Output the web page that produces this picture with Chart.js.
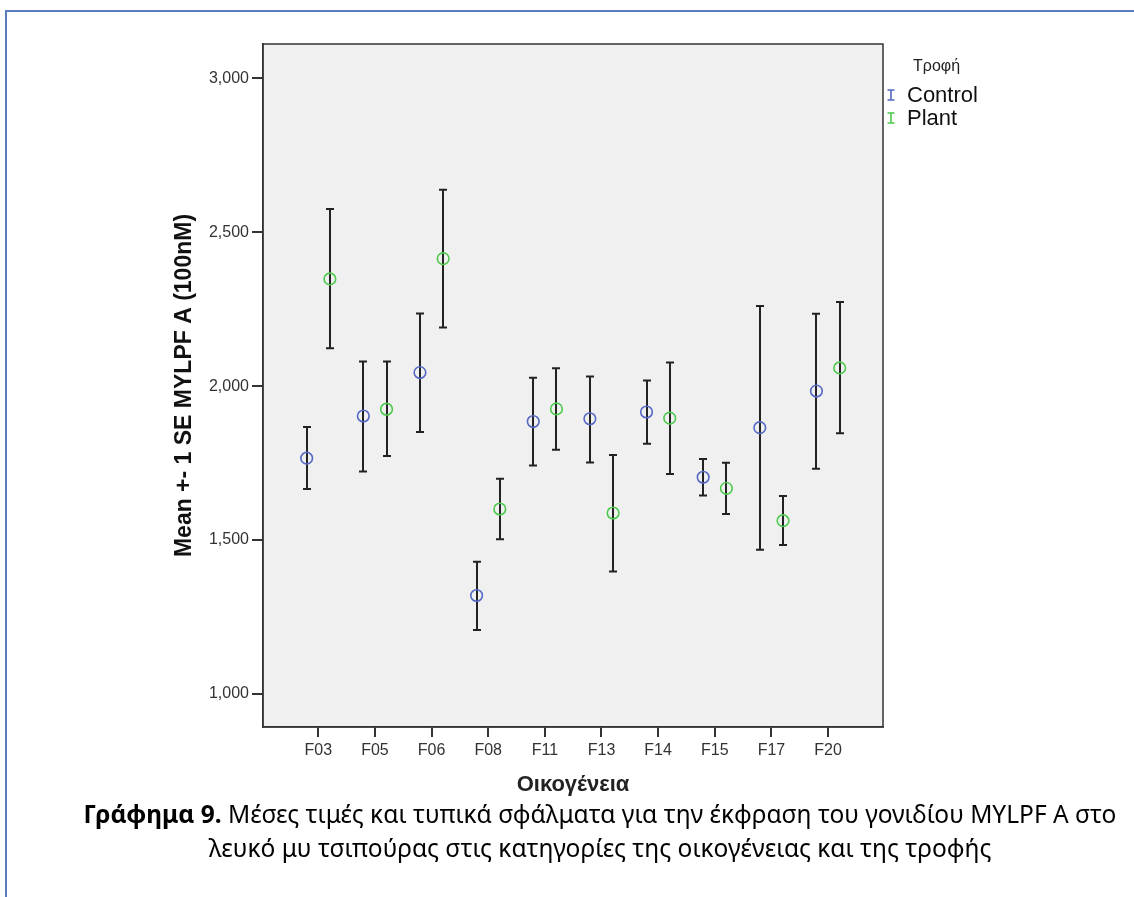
<!DOCTYPE html>
<html>
<head>
<meta charset="utf-8">
<script src="https://cdn.jsdelivr.net/npm/chart.js@4"></script>
<style>
  html, body { margin: 0; padding: 0; background: #fff; }
  body { width: 1134px; height: 897px; position: relative; overflow: hidden; }
  #frame { position: absolute; left: 5px; top: 10px; width: 1140px; height: 900px;
           border-top: 2px solid #5b7bbf; border-left: 2px solid #5b7bbf; }
  #wrap { position: absolute; left: 0; top: 0; width: 1134px; height: 800px; }
  #caption { position: absolute; left: 33px; top: 797px; width: 1134px; text-align: center; white-space: nowrap;
             font-family: "Noto Sans", sans-serif; font-size: 24.5px; line-height: 34px; color: #000; }
  #caption b { font-weight: bold; }
</style>
</head>
<body>
<div id="frame"></div>
<div id="wrap"><canvas id="chart"></canvas></div>
<div id="caption"><b>Γράφημα 9.</b> Μέσες τιμές και τυπικά σφάλματα για την έκφραση του γονιδίου MYLPF A στο<br>λευκό μυ τσιπούρας στις κατηγορίες της οικογένειας και της τροφής</div>
<script>
// Οικογένειες (άξονας x)
const families = ['F03', 'F05', 'F06', 'F08', 'F11', 'F13', 'F14', 'F15', 'F17', 'F20'];

// Control: μέση τιμή και όρια +- 1 SE
const controlMean = [1766, 1903, 2044, 1320, 1885, 1894, 1916, 1704, 1865, 1984];
const controlLow  = [1666, 1723, 1851, 1208, 1742, 1752, 1813, 1645, 1469, 1732];
const controlHigh = [1867, 2080, 2236, 1430, 2027, 2031, 2018, 1763, 2260, 2235];

// Plant: μέση τιμή και όρια +- 1 SE
const plantMean = [2348, 1925, 2414, 1601, 1926, 1588, 1896, 1668, 1563, 2059];
const plantLow  = [2123, 1773, 2190, 1503, 1793, 1398, 1715, 1585, 1484, 1847];
const plantHigh = [2575, 2080, 2638, 1699, 2058, 1776, 2077, 1751, 1643, 2273];

const yTicks = [1000, 1500, 2000, 2500, 3000];

const blue = '#5468c4';
const green = '#4cc94c';

function points(mean, low, high, shift) {
  return mean.map((m, i) => ({ x: i + shift, y: m, low: low[i], high: high[i] }));
}

// background + frame of the plot area
const plotFrame = {
  id: 'plotFrame',
  beforeDraw(chart) {
    const a = chart.chartArea, ctx = chart.ctx;
    ctx.save();
    ctx.fillStyle = '#f0f0f0';
    ctx.fillRect(a.left, a.top, a.right - a.left, a.bottom - a.top);
    ctx.restore();
  },
  afterDraw(chart) {
    const a = chart.chartArea, ctx = chart.ctx;
    ctx.save();
    ctx.strokeStyle = '#333';
    ctx.lineWidth = 1.5;
    ctx.strokeRect(a.left, a.top, a.right - a.left, a.bottom - a.top);
    ctx.restore();
  }
};

// error bars drawn from the scales
const errorBars = {
  id: 'errorBars',
  beforeDatasetsDraw(chart) {
    const ctx = chart.ctx, xs = chart.scales.x, ys = chart.scales.y;
    ctx.save();
    ctx.strokeStyle = '#222';
    ctx.lineWidth = 2;
    chart.data.datasets.forEach(ds => {
      ds.data.forEach(p => {
        const px = Math.round(xs.getPixelForValue(p.x));
        const top = ys.getPixelForValue(p.high);
        const bot = ys.getPixelForValue(p.low);
        ctx.beginPath();
        ctx.moveTo(px, top); ctx.lineTo(px, bot);
        ctx.moveTo(px - 4, top); ctx.lineTo(px + 4, top);
        ctx.moveTo(px - 4, bot); ctx.lineTo(px + 4, bot);
        ctx.stroke();
      });
    });
    ctx.restore();
  }
};

// SPSS-like legend on the right
const sideLegend = {
  id: 'sideLegend',
  afterDraw(chart) {
    const ctx = chart.ctx;
    ctx.save();
    ctx.textBaseline = 'middle';
    ctx.fillStyle = '#222';
    ctx.font = '16px Arial, "Liberation Sans", sans-serif';
    ctx.fillText('Τροφή', 913, 67);
    const items = [['Control', blue, 95], ['Plant', green, 118]];
    ctx.font = '22px Arial, "Liberation Sans", sans-serif';
    items.forEach(([label, col, y]) => {
      ctx.strokeStyle = col;
      ctx.lineWidth = 1.6;
      ctx.beginPath();
      ctx.moveTo(891, y - 5); ctx.lineTo(891, y + 5);
      ctx.moveTo(887.5, y - 5); ctx.lineTo(894.5, y - 5);
      ctx.moveTo(887.5, y + 5); ctx.lineTo(894.5, y + 5);
      ctx.stroke();
      ctx.fillStyle = '#111';
      ctx.fillText(label, 907, y + 1);
    });
    ctx.restore();
  }
};

const ctx = document.getElementById('chart').getContext('2d');
new Chart(ctx, {
  type: 'scatter',
  data: {
    datasets: [
      {
        label: 'Control',
        data: points(controlMean, controlLow, controlHigh, -0.205),
        borderColor: blue,
        backgroundColor: 'rgba(0,0,0,0)',
        pointRadius: 5.8,
        borderWidth: 1.6
      },
      {
        label: 'Plant',
        data: points(plantMean, plantLow, plantHigh, 0.205),
        borderColor: green,
        backgroundColor: 'rgba(0,0,0,0)',
        pointRadius: 5.8,
        borderWidth: 1.6
      }
    ]
  },
  options: {
    responsive: true,
    maintainAspectRatio: false,
    animation: false,
    layout: { padding: { left: 150, right: 251, top: 44, bottom: 0 } },
    plugins: {
      legend: { display: false },
      tooltip: { enabled: false }
    },
    scales: {
      x: {
        type: 'linear',
        min: -0.976,
        max: 9.97,
        afterBuildTicks: scale => { scale.ticks = families.map((f, i) => ({ value: i })); },
        afterFit: scale => { scale.height = 73; },
        ticks: {
          autoSkip: false,
          includeBounds: false,
          padding: 4,
          color: '#333',
          font: { family: 'Arial, "Liberation Sans", sans-serif', size: 16 },
          callback: v => families[v]
        },
        grid: { drawOnChartArea: false, tickLength: 10, tickColor: '#333', lineWidth: 2 },
        border: { color: '#333', width: 1.5 },
        title: {
          display: true,
          text: 'Οικογένεια',
          color: '#222',
          padding: { top: 0, bottom: 2 },
          font: { family: 'Arial, "Liberation Sans", sans-serif', size: 22, weight: 'bold' }
        }
      },
      y: {
        min: 893,
        max: 3111,
        afterBuildTicks: scale => { scale.ticks = yTicks.map(v => ({ value: v })); },
        afterFit: scale => { scale.width = 113; },
        ticks: {
          includeBounds: false,
          padding: 3,
          color: '#333',
          font: { family: 'Arial, "Liberation Sans", sans-serif', size: 16 },
          callback: v => v.toLocaleString('en-US')
        },
        grid: { drawOnChartArea: false, tickLength: 11, tickColor: '#333', lineWidth: 2 },
        border: { color: '#333', width: 1.5 },
        title: {
          display: true,
          text: 'Mean +- 1 SE MYLPF A (100nM)',
          color: '#111',
          padding: { top: 21, bottom: 0 },
          font: { family: 'Arial, "Liberation Sans", sans-serif', size: 23, weight: 'bold' }
        }
      }
    }
  },
  plugins: [plotFrame, errorBars, sideLegend]
});
</script>
</body>
</html>
